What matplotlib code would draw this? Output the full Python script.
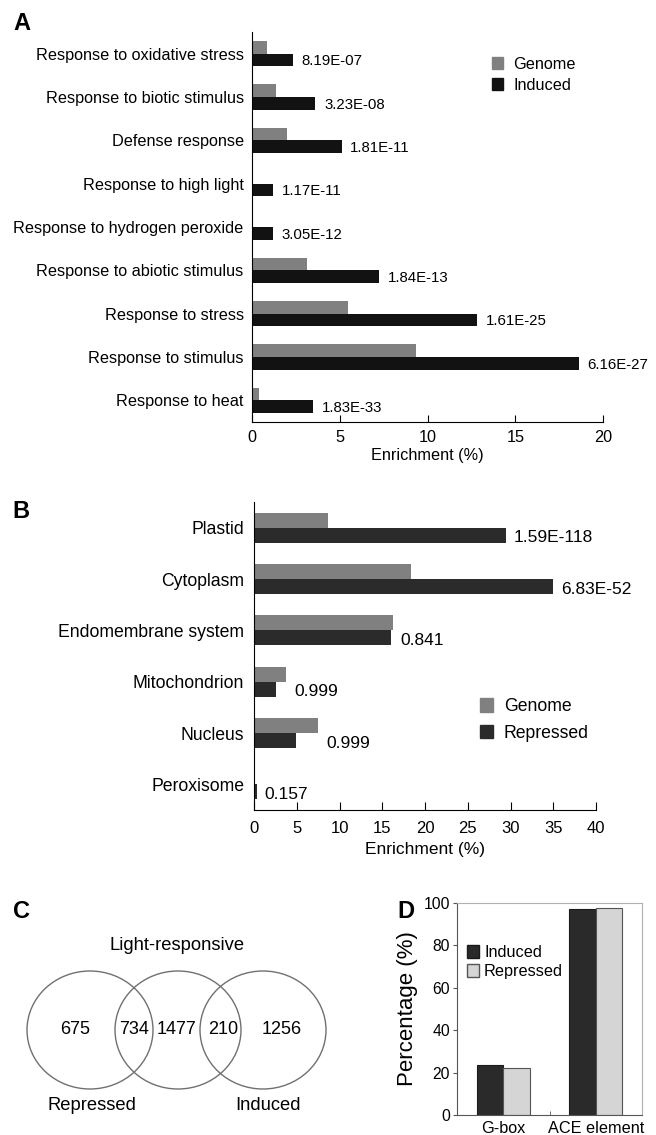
import matplotlib
matplotlib.use("Agg")
import matplotlib.pyplot as plt
import numpy as np
from matplotlib.patches import Ellipse, Patch

plt.rcParams['font.family'] = ['Liberation Sans', 'DejaVu Sans']

# ---------------- data ----------------
a_categories = ["Response to oxidative stress", "Response to biotic stimulus", "Defense response",
                "Response to high light", "Response to hydrogen peroxide", "Response to abiotic stimulus",
                "Response to stress", "Response to stimulus", "Response to heat"]
a_genome = [0.83, 1.38, 1.99, 0.06, 0.06, 3.13, 5.48, 9.32, 0.38]
a_induced = [2.33, 3.61, 5.10, 1.19, 1.19, 7.24, 12.81, 18.62, 3.49]
a_pvalues = ["8.19E-07", "3.23E-08", "1.81E-11", "1.17E-11", "3.05E-12", "1.84E-13",
             "1.61E-25", "6.16E-27", "1.83E-33"]
a_ticks = [0, 5, 10, 15, 20]

b_categories = ["Plastid", "Cytoplasm", "Endomembrane system", "Mitochondrion", "Nucleus", "Peroxisome"]
b_genome = [8.66, 18.35, 16.25, 3.80, 7.54, 0.10]
b_repressed = [29.44, 34.99, 16.0, 2.63, 4.91, 0.34]
b_pvalues = ["1.59E-118", "6.83E-52", "0.841", "0.999", "0.999", "0.157"]
b_ticks = [0, 5, 10, 15, 20, 25, 30, 35, 40]

venn_counts = [675, 734, 1477, 210, 1256]
venn_sets = ["Repressed", "Light-responsive", "Induced"]

d_categories = ["G-box", "ACE element"]
d_induced = [23.4, 97.3]
d_repressed = [22.2, 97.6]
d_ticks = [0, 20, 40, 60, 80, 100]

# ---------------- figure ----------------
W, H = 656, 1135
fig = plt.figure(figsize=(W / 100, H / 100), dpi=100)

def fbox(x0, y0, x1, y1):
    return [x0 / W, 1 - y1 / H, (x1 - x0) / W, (y1 - y0) / H]

C_GEN = "#808080"
C_IND = "#121212"
C_REP = "#2b2b2b"

# ---------------- Panel A ----------------
axA = fig.add_axes(fbox(252, 32, 603, 422))
ya = np.arange(len(a_categories))
h = 0.29
axA.barh(ya - h / 2, a_genome, height=h, color=C_GEN)
axA.barh(ya + h / 2, a_induced, height=h, color=C_IND)
for y, v, t in zip(ya, a_induced, a_pvalues):
    axA.text(v + 0.5, y + h / 2 + 0.03, t, va="center", ha="left", fontsize=10.8)
axA.set_ylim(len(a_categories) - 0.5, -0.5)
axA.set_xlim(0, 20)
axA.set_yticks(ya)
axA.set_yticklabels(a_categories, fontsize=11.7)
axA.tick_params(axis="y", length=0, pad=6)
axA.set_xticks(a_ticks)
axA.tick_params(axis="x", direction="in", length=5, labelsize=11.7, pad=6)
axA.spines["top"].set_visible(False)
axA.spines["right"].set_visible(False)
axA.set_xlabel("Enrichment (%)", fontsize=11.7, labelpad=2)
axA.legend([Patch(color=C_GEN), Patch(color=C_IND)], ["Genome", "Induced"],
           loc="upper left", bbox_to_anchor=(492 / W, 1 - 57 / H), bbox_transform=fig.transFigure,
           frameon=False, fontsize=11.7, handlelength=0.7, handleheight=0.75,
           handletextpad=0.6, labelspacing=0.35, borderpad=0, borderaxespad=0)
fig.text(13 / W, 1 - 24 / H, "A", fontsize=17, fontweight="bold", va="center", ha="left")

# ---------------- Panel B ----------------
axB = fig.add_axes(fbox(254, 502, 596, 810))
yb = np.arange(len(b_categories))
axB.barh(yb - h / 2, b_genome, height=h, color=C_GEN)
axB.barh(yb + h / 2, b_repressed, height=h, color=C_REP)
for y, g, r, t in zip(yb, b_genome, b_repressed, b_pvalues):
    axB.text(max(g, r) + 0.9, y + h / 2 + 0.05, t, va="center", ha="left", fontsize=12.5)
axB.set_ylim(len(b_categories) - 0.5, -0.5)
axB.set_xlim(0, 40)
axB.set_yticks(yb)
axB.set_yticklabels(b_categories, fontsize=12.7)
axB.tick_params(axis="y", length=0, pad=7)
axB.set_xticks(b_ticks)
axB.tick_params(axis="x", direction="in", length=6, labelsize=12, pad=8)
axB.spines["top"].set_visible(False)
axB.spines["right"].set_visible(False)
axB.set_xlabel("Enrichment (%)", fontsize=12.5, labelpad=4)
axB.legend([Patch(color=C_GEN), Patch(color=C_REP)], ["Genome", "Repressed"],
           loc="upper left", bbox_to_anchor=(480 / W, 1 - 698 / H), bbox_transform=fig.transFigure,
           frameon=False, fontsize=12.7, handlelength=0.75, handleheight=0.8,
           handletextpad=0.6, labelspacing=0.55, borderpad=0, borderaxespad=0)
fig.text(12 / W, 1 - 512 / H, "B", fontsize=17, fontweight="bold", va="center", ha="left")

# ---------------- Panel C (Venn) ----------------
axC = fig.add_axes(fbox(0, 880, 380, 1135))
axC.set_xlim(0, 380)
axC.set_ylim(1135, 880)
axC.axis("off")
circle_x = [90, 178, 263]
for cx in circle_x:
    axC.add_patch(Ellipse((cx, 1030), 126, 118, fill=False, edgecolor="#707070", linewidth=1.0))
count_x = [75, 134, 176, 223, 282]
for x, n in zip(count_x, venn_counts):
    axC.text(x, 1030, str(n), ha="center", va="center", fontsize=13)
axC.text(92, 1106, venn_sets[0], ha="center", va="center", fontsize=13.2)
axC.text(177, 945, venn_sets[1], ha="center", va="center", fontsize=13.2)
axC.text(268, 1106, venn_sets[2], ha="center", va="center", fontsize=13.2)
fig.text(13 / W, 1 - 911 / H, "C", fontsize=17, fontweight="bold", va="center", ha="left")

# ---------------- Panel D ----------------
axD = fig.add_axes(fbox(457, 903, 642, 1115))
xd = np.arange(len(d_categories))
w = 0.287
axD.bar(xd - w / 2, d_induced, width=w, color="#2a2a2a", edgecolor="#1a1a1a", linewidth=0.8)
axD.bar(xd + w / 2, d_repressed, width=w, color="#d5d5d5", edgecolor="#555555", linewidth=0.8)
axD.set_xlim(-0.5, 1.5)
axD.set_ylim(0, 100)
axD.set_yticks(d_ticks)
axD.tick_params(axis="y", direction="out", length=3, labelsize=11.3, pad=2, color="#555555")
axD.set_xticks(xd)
axD.set_xticklabels(d_categories, fontsize=11.7)
axD.tick_params(axis="x", length=0, pad=4)
axD.set_xticks([0.5], minor=True)
axD.tick_params(axis="x", which="minor", direction="in", length=3, color="#555555")
for s in ["left", "bottom"]:
    axD.spines[s].set_color("#555555")
for s in ["top", "right"]:
    axD.spines[s].set_color("#b0b0b0")
axD.set_ylabel("Percentage (%)", fontsize=16, labelpad=4)
axD.legend([Patch(facecolor="#2a2a2a", edgecolor="#1a1a1a"), Patch(facecolor="#d5d5d5", edgecolor="#555555")],
           ["Induced", "Repressed"], loc="upper left", bbox_to_anchor=(467 / W, 1 - 945 / H),
           bbox_transform=fig.transFigure, frameon=False, fontsize=11.7, handlelength=0.75,
           handleheight=0.8, handletextpad=0.3, labelspacing=0.25, borderpad=0, borderaxespad=0)
fig.text(397 / W, 1 - 911 / H, "D", fontsize=17, fontweight="bold", va="center", ha="left")

fig.savefig("out.png", dpi=100)
